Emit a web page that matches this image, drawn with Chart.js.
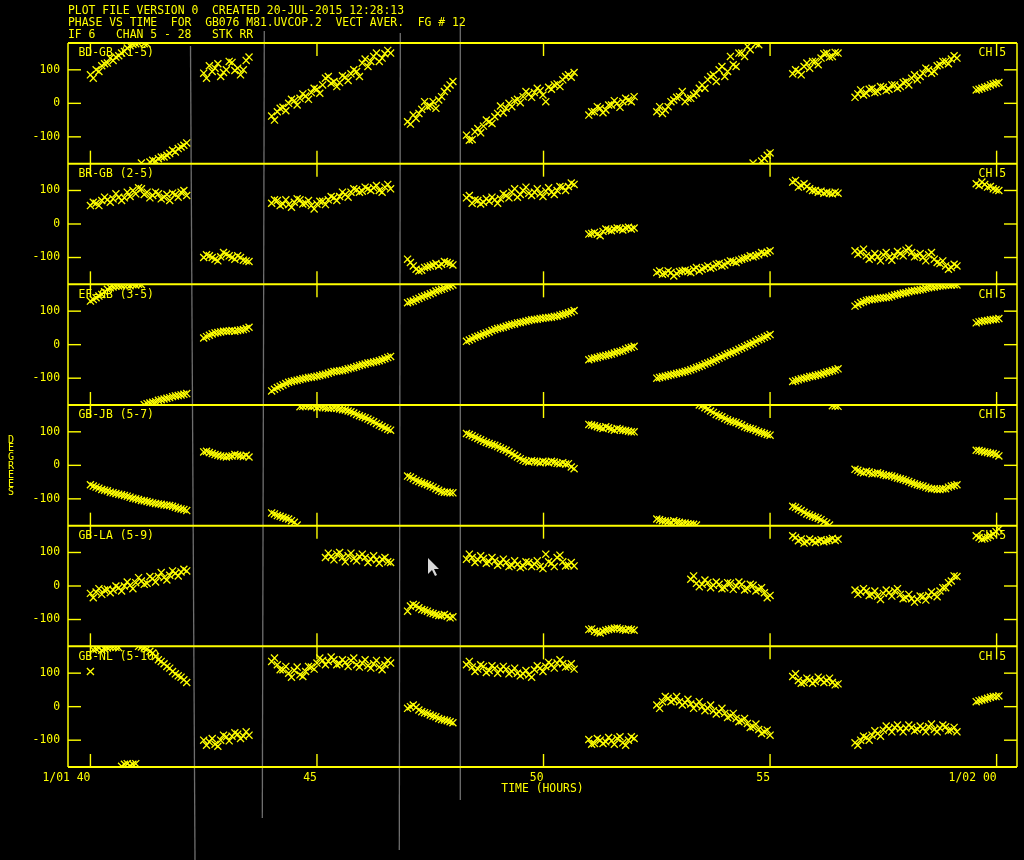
<!DOCTYPE html>
<html>
<head>
<meta charset="utf-8">
<script src="https://cdn.jsdelivr.net/npm/chart.js@4.4.1/dist/chart.umd.min.js"></script>
<style>
  html, body { margin: 0; padding: 0; background: #000; }
  #wrap { position: relative; width: 1024px; height: 860px; }
</style>
</head>
<body>
<div id="wrap"><canvas id="phaseChart" width="1024" height="860"></canvas></div>
<script>
const titleLines = [
  'PLOT FILE VERSION 0  CREATED 20-JUL-2015 12:28:13',
  'PHASE VS TIME  FOR  GB076 M81.UVCOP.2  VECT AVER.  FG # 12',
  'IF 6   CHAN 5 - 28   STK RR'
];
const baselines = ['BD-GB (1-5)', 'BR-GB (2-5)', 'EF-GB (3-5)', 'GB-JB (5-7)', 'GB-LA (5-9)', 'GB-NL (5-10)'];
const channelLabel = 'CH 5';
const xTicks = [40, 45, 50, 55, 60];
const xTickLabels = ['1/01 40', '45', '50', '55', '1/02 00'];
const yTicks = [-100, 0, 100];

// sample times (hours) of each scan
const scanTimes = [
  [40.0, 40.0625, 40.125, 40.1875, 40.25, 40.3125, 40.375, 40.4375, 40.5, 40.5625, 40.625, 40.6875, 40.75, 40.8125, 40.875, 40.9375, 41.0, 41.0625, 41.125, 41.1875, 41.25, 41.3125, 41.375, 41.4375, 41.5, 41.5625, 41.625, 41.6875, 41.75, 41.8125, 41.875, 41.9375, 42.0, 42.0625, 42.125],
  [42.5, 42.5625, 42.625, 42.6875, 42.75, 42.8125, 42.875, 42.9375, 43.0, 43.0625, 43.125, 43.1875, 43.25, 43.3125, 43.375, 43.4375, 43.5],
  [44.0, 44.0625, 44.125, 44.1875, 44.25, 44.3125, 44.375, 44.4375, 44.5, 44.5625, 44.625, 44.6875, 44.75, 44.8125, 44.875, 44.9375, 45.0, 45.0625, 45.125, 45.1875, 45.25, 45.3125, 45.375, 45.4375, 45.5, 45.5625, 45.625, 45.6875, 45.75, 45.8125, 45.875, 45.9375, 46.0, 46.0625, 46.125, 46.1875, 46.25, 46.3125, 46.375, 46.4375, 46.5, 46.5625, 46.625],
  [47.0, 47.0625, 47.125, 47.1875, 47.25, 47.3125, 47.375, 47.4375, 47.5, 47.5625, 47.625, 47.6875, 47.75, 47.8125, 47.875, 47.9375, 48.0],
  [48.3, 48.3625, 48.425, 48.4875, 48.55, 48.6125, 48.675, 48.7375, 48.8, 48.8625, 48.925, 48.9875, 49.05, 49.1125, 49.175, 49.2375, 49.3, 49.3625, 49.425, 49.4875, 49.55, 49.6125, 49.675, 49.7375, 49.8, 49.8625, 49.925, 49.9875, 50.05, 50.1125, 50.175, 50.2375, 50.3, 50.3625, 50.425, 50.4875, 50.55, 50.6125, 50.675],
  [51.0, 51.0625, 51.125, 51.1875, 51.25, 51.3125, 51.375, 51.4375, 51.5, 51.5625, 51.625, 51.6875, 51.75, 51.8125, 51.875, 51.9375, 52.0],
  [52.5, 52.5625, 52.625, 52.6875, 52.75, 52.8125, 52.875, 52.9375, 53.0, 53.0625, 53.125, 53.1875, 53.25, 53.3125, 53.375, 53.4375, 53.5, 53.5625, 53.625, 53.6875, 53.75, 53.8125, 53.875, 53.9375, 54.0, 54.0625, 54.125, 54.1875, 54.25, 54.3125, 54.375, 54.4375, 54.5, 54.5625, 54.625, 54.6875, 54.75, 54.8125, 54.875, 54.9375, 55.0],
  [55.5, 55.5625, 55.625, 55.6875, 55.75, 55.8125, 55.875, 55.9375, 56.0, 56.0625, 56.125, 56.1875, 56.25, 56.3125, 56.375, 56.4375, 56.5],
  [56.875, 56.9375, 57.0, 57.0625, 57.125, 57.1875, 57.25, 57.3125, 57.375, 57.4375, 57.5, 57.5625, 57.625, 57.6875, 57.75, 57.8125, 57.875, 57.9375, 58.0, 58.0625, 58.125, 58.1875, 58.25, 58.3125, 58.375, 58.4375, 58.5, 58.5625, 58.625, 58.6875, 58.75, 58.8125, 58.875, 58.9375, 59.0, 59.0625, 59.125],
  [59.55, 59.6125, 59.675, 59.7375, 59.8, 59.8625, 59.925, 59.9875, 60.05]
];

// phases (degrees), one list per scan
const bdgb = [
  [85, 75, 100, 95, 112, 118, 120, 135, 128, 138, 142, 150, 155, 165, 172, 176, 178, 179, -178, 178, 177, -175, -170, -172, -165, -160, -160, -155, -150, -140, -145, -135, -130, -125, -118],
  [90, 75, 112, 95, 105, 118, 80, 92, 100, 125, 122, 98, 105, 85, 100, 128, 138],
  [-38, -50, -25, -15, -12, -22, 0, 12, 8, -5, 15, 28, 22, 12, 32, 45, 42, 30, 55, 75, 80, 60, 65, 50, 62, 82, 78, 68, 88, 100, 95, 80, 120, 132, 110, 125, 140, 150, 125, 135, 148, 158, 150],
  [-55, -62, -35, -45, -30, -18, 5, -10, -8, 5, -15, 10, 20, 35, 45, 55, 65],
  [-95, -110, -108, -85, -75, -88, -68, -50, -55, -60, -40, -30, -8, -28, -15, 0, -10, 8, 12, 2, 20, 35, 28, 18, 32, 45, 38, 25, 5, 48, 42, 55, 58, 50, 70, 80, 85, 78, 92],
  [-35, -25, -25, -10, -15, -28, -20, -5, -5, 8, 0, -12, 5, 15, 10, 5, 20],
  [-25, -10, -30, -20, -10, 5, 10, 18, 20, 35, 5, 15, 15, 25, 30, 45, 55, 45, 70, 80, 85, 65, 100, 110, 80, 95, 140, 115, 110, 150, 150, 140, 170, 160, -178, 178, 175, -172, -165, -155, -148],
  [88, 100, 95, 85, 110, 120, 105, 125, 125, 115, 135, 148, 150, 138, 140, 152, 150],
  [18, 28, 40, 25, 30, 42, 45, 32, 35, 50, 48, 38, 42, 55, 55, 45, 50, 62, 65, 55, 75, 85, 70, 80, 90, 105, 100, 90, 95, 112, 115, 125, 125, 118, 132, 142, 135],
  [40, 42, 45, 48, 50, 55, 58, 60, 62]
];
const brgb = [
  [55, 65, 62, 55, 70, 80, 72, 65, 75, 90, 80, 70, 78, 95, 82, 100, 90, 108, 105, 88, 95, 78, 85, 95, 90, 75, 80, 88, 70, 92, 88, 80, 95, 100, 85],
  [-100, -92, -95, -100, -105, -110, -98, -85, -90, -95, -100, -105, -95, -100, -108, -110, -112],
  [62, 72, 70, 55, 60, 72, 58, 50, 65, 75, 72, 60, 62, 70, 55, 45, 60, 68, 68, 58, 72, 82, 78, 70, 82, 95, 88, 80, 95, 105, 102, 95, 98, 110, 105, 100, 108, 115, 100, 95, 110, 118, 105],
  [-105, -115, -125, -135, -140, -138, -130, -128, -125, -122, -118, -125, -120, -112, -115, -118, -122],
  [78, 85, 62, 72, 70, 60, 65, 75, 68, 80, 72, 62, 75, 90, 85, 78, 95, 105, 80, 88, 100, 110, 92, 85, 95, 105, 90, 82, 98, 108, 95, 88, 100, 112, 110, 100, 112, 122, 118],
  [-30, -28, -25, -30, -35, -22, -15, -18, -20, -15, -12, -14, -18, -12, -10, -15, -12],
  [-145, -140, -150, -148, -140, -145, -155, -148, -142, -140, -138, -142, -145, -135, -130, -140, -135, -130, -125, -132, -128, -120, -118, -125, -122, -115, -110, -112, -115, -108, -105, -102, -100, -95, -98, -95, -92, -85, -88, -84, -80],
  [125, 130, 110, 115, 120, 112, 105, 100, 100, 95, 98, 92, 95, 92, 90, 95, 92],
  [-80, -90, -85, -75, -95, -105, -100, -88, -98, -110, -92, -85, -100, -108, -95, -82, -88, -95, -78, -72, -85, -98, -95, -88, -100, -110, -92, -85, -105, -115, -118, -110, -125, -135, -130, -120, -125],
  [120, 115, 125, 118, 110, 112, 105, 102, 100]
];
const efgb = [
  [130, 135, 140, 145, 150, 158, 165, 170, 172, 174, 175, 176, 177, 178, 176, 179, 178, 180, 179, -179, -176, -174, -172, -170, -166, -164, -162, -160, -158, -155, -153, -152, -150, -148, -146],
  [20, 24, 28, 32, 35, 36, 38, 40, 40, 41, 42, 40, 42, 44, 45, 48, 52],
  [-138, -133, -128, -124, -120, -116, -112, -110, -108, -106, -104, -102, -100, -98, -97, -96, -94, -92, -90, -88, -85, -82, -80, -79, -78, -77, -75, -72, -70, -68, -65, -62, -60, -58, -55, -54, -52, -50, -48, -45, -42, -38, -35],
  [125, 128, 130, 135, 138, 142, 145, 148, 152, 155, 160, 162, 165, 168, 172, 175, 178],
  [10, 14, 18, 22, 25, 28, 32, 35, 38, 42, 45, 48, 50, 52, 55, 58, 60, 62, 65, 66, 68, 70, 72, 74, 75, 76, 78, 79, 80, 81, 82, 84, 85, 88, 90, 92, 95, 98, 102],
  [-45, -42, -40, -38, -35, -34, -32, -30, -28, -25, -22, -20, -18, -14, -10, -8, -5],
  [-100, -98, -96, -94, -92, -90, -88, -86, -84, -82, -80, -78, -75, -72, -68, -65, -62, -58, -55, -52, -48, -44, -40, -36, -32, -28, -25, -22, -18, -14, -10, -6, -2, 2, 5, 10, 15, 18, 22, 26, 30],
  [-110, -108, -105, -102, -100, -98, -95, -94, -92, -90, -88, -85, -82, -80, -78, -75, -72],
  [115, 120, 125, 128, 132, 134, 135, 136, 138, 139, 140, 141, 142, 145, 148, 150, 152, 154, 155, 158, 160, 161, 162, 164, 165, 168, 170, 171, 172, 174, 175, 176, 177, 178, 178, 179, 178],
  [65, 68, 70, 71, 72, 74, 75, 76, 78]
];
const gbjb = [
  [-58, -62, -65, -68, -72, -74, -76, -80, -82, -84, -86, -88, -90, -92, -95, -98, -100, -102, -105, -106, -108, -110, -112, -114, -115, -116, -118, -119, -120, -122, -125, -128, -130, -132, -135],
  [40, 42, 38, 35, 32, 30, 28, 26, 25, 27, 28, 32, 30, 28, 26, 30, 25],
  [-142, -145, -150, -152, -155, -158, -160, -165, -170, -178, 175, 176, 178, 177, 175, 176, 172, 175, 174, 172, 170, 171, 172, 170, 168, 166, 165, 162, 160, 156, 152, 148, 145, 142, 138, 134, 130, 125, 120, 116, 112, 108, 105],
  [-32, -35, -40, -45, -48, -52, -55, -58, -62, -65, -70, -74, -78, -80, -80, -82, -82],
  [95, 92, 88, 84, 80, 76, 72, 68, 65, 62, 60, 56, 52, 48, 45, 40, 35, 30, 25, 20, 15, 12, 10, 14, 12, 10, 8, 12, 10, 8, 12, 10, 6, 5, 8, 4, 5, -5, -10],
  [122, 120, 118, 115, 112, 110, 115, 112, 108, 105, 110, 108, 105, 104, 102, 100, 100],
  [-160, -162, -165, -166, -168, -170, -165, -168, -170, -172, -172, -174, -175, -176, -178, 180, 178, 172, 168, 162, 158, 152, 148, 145, 140, 136, 132, 130, 128, 124, 120, 115, 112, 110, 108, 104, 100, 98, 95, 92, 90],
  [-122, -125, -130, -135, -140, -145, -148, -152, -155, -158, -162, -168, -172, -178, 178, 177, 176],
  [-12, -15, -20, -22, -18, -20, -25, -24, -22, -25, -28, -30, -30, -32, -35, -38, -40, -42, -45, -48, -52, -55, -58, -60, -62, -65, -68, -70, -70, -72, -72, -70, -70, -65, -62, -60, -58],
  [45, 44, 42, 40, 38, 36, 35, 32, 28]
];
const gbla = [
  [-22, -35, -18, -8, -25, -12, -10, -20, -12, 0, -5, -15, 0, 12, 2, -8, 10, 25, 15, 5, 8, 28, 22, 12, 28, 40, 25, 18, 32, 45, 38, 30, 42, 50, 45],
  [null, null, null, null, null, null, null, null, null, null, null, null, null, null, null, null, null],
  [null, null, null, null, null, null, null, null, null, null, null, null, null, null, null, null, null, null, null, 85, 98, 88, 78, 95, 100, 85, 72, 90, 98, 82, 75, 88, 95, 85, 70, 80, 90, 78, 68, 80, 85, 72, 70],
  [-75, -60, -55, -58, -65, -70, -72, -75, -80, -82, -85, -88, -88, -85, -90, -95, -92],
  [80, 95, 85, 70, 78, 90, 82, 68, 72, 85, 75, 62, 68, 80, 70, 58, 62, 75, 65, 55, 60, 72, 70, 58, 65, 75, 58, 52, 95, 72, 68, 58, 85, 92, 72, 60, 62, 70, 60],
  [-130, -128, -135, -138, -140, -135, -132, -130, -128, -126, -125, -128, -130, -132, -128, -130, -132],
  [null, null, null, null, null, null, null, null, null, null, null, null, 20, 30, 8, -2, 5, 18, 10, -5, 2, 12, 5, -8, -5, 10, 8, -10, 0, 12, 5, -12, -8, 5, 2, -15, -10, -5, -20, -35, -28],
  [150, 145, 135, 140, 128, 132, 140, 135, 130, 135, 138, 132, 135, 138, 142, 136, 140],
  [-12, -25, -18, -8, -15, -28, -25, -15, -30, -40, -22, -12, -20, -30, -15, -8, -25, -38, -35, -25, -38, -48, -40, -30, -32, -42, -28, -18, -25, -32, -15, -5, -5, 10, 15, 30, 28],
  [150, 145, 140, 142, 145, 150, 155, 162, 170]
];
const gbnl = [
  [105, 170, 172, 175, 168, 172, 175, 178, 178, 177, 176, -178, -172, -170, -176, -172, -170, 180, 178, 175, 172, 165, 160, 150, 140, 135, 128, 120, 115, 105, 98, 92, 88, 80, 72],
  [-100, -115, -105, -95, -112, -118, -100, -85, -90, -102, -88, -78, -82, -95, -88, -75, -85],
  [135, 145, 125, 110, 110, 120, 100, 88, 108, 118, 95, 90, 105, 120, 118, 112, 130, 145, 138, 125, 135, 148, 140, 125, 128, 140, 132, 120, 138, 145, 125, 118, 130, 140, 122, 115, 128, 138, 118, 110, 125, 138, 130],
  [-5, 0, 5, -2, -10, -15, -18, -20, -25, -28, -30, -35, -38, -40, -42, -45, -48],
  [125, 135, 118, 105, 112, 125, 120, 102, 108, 122, 115, 100, 110, 120, 112, 98, 105, 115, 100, 92, 98, 108, 95, 88, 110, 122, 115, 105, 120, 132, 125, 115, 130, 140, 128, 118, 120, 128, 112],
  [-98, -112, -110, -95, -100, -110, -105, -92, -102, -112, -95, -90, -108, -115, -100, -90, -95],
  [5, -5, 15, 30, 25, 15, 20, 30, 15, 5, 12, 22, 8, -5, 5, 15, 0, -12, -5, 5, -12, -22, -15, -5, -20, -32, -28, -20, -35, -45, -42, -35, -50, -62, -60, -52, -68, -80, -75, -70, -85],
  [90, 98, 78, 70, 72, 85, 80, 70, 75, 88, 82, 72, 78, 85, 72, 65, 68],
  [-108, -115, -100, -88, -92, -100, -85, -72, -80, -88, -70, -58, -65, -75, -62, -55, -66, -75, -64, -55, -62, -72, -68, -58, -65, -75, -60, -52, -68, -75, -64, -55, -60, -72, -70, -62, -75],
  [15, 18, 20, 22, 25, 28, 30, 30, 32]
];
const phases = [bdgb, brgb, efgb, gbjb, gbla, gbnl];

const YELLOW = '#ffff00';
const FONT = '"DejaVu Sans Mono", monospace';
Chart.defaults.font.family = FONT;
Chart.defaults.font.size = 11.4;
Chart.defaults.color = YELLOW;

function toPoints(series) {
  const pts = [];
  series.forEach((vals, s) => {
    vals.forEach((v, i) => {
      if (v !== null) pts.push({ x: scanTimes[s][i], y: v });
    });
  });
  return pts;
}

// stray screen lines in the captured window
const seams = [[190.5, 46, 195, 860], [264.3, 31, 262.3, 818], [400.3, 33, 399.3, 850], [460.3, 23, 460.3, 800]];

const aipsFrame = {
  id: 'aipsFrame',
  beforeDatasetsDraw(chart) {
    const ctx = chart.ctx;
    ctx.save();
    ctx.strokeStyle = '#6e6e6e';
    ctx.lineWidth = 1.3;
    seams.forEach(s => {
      ctx.beginPath(); ctx.moveTo(s[0], s[1]); ctx.lineTo(s[2], s[3]); ctx.stroke();
    });
    ctx.restore();
  },
  afterDraw(chart) {
    const { ctx, chartArea: a, scales } = chart;
    const xs = scales.x;
    const line = (x1, y1, x2, y2) => { ctx.beginPath(); ctx.moveTo(x1, y1); ctx.lineTo(x2, y2); ctx.stroke(); };
    ctx.save();
    ctx.strokeStyle = YELLOW;
    ctx.fillStyle = YELLOW;
    ctx.font = '11.4px ' + FONT;
    ctx.textBaseline = 'middle';
    baselines.forEach((name, i) => {
      const ys = scales['y' + i];
      ctx.lineWidth = 2;
      line(a.left, ys.top, a.right, ys.top);
      ctx.lineWidth = 1.4;
      xTicks.forEach(v => {
        const px = xs.getPixelForValue(v);
        line(px, ys.top, px, ys.top + 13);
        line(px, ys.bottom - 13, px, ys.bottom);
      });
      yTicks.forEach(v => {
        const py = ys.getPixelForValue(v);
        line(a.left, py, a.left + 13, py);
        line(a.right - 13, py, a.right, py);
      });
      ctx.textAlign = 'left';
      ctx.fillText(name, a.left + 10.5, ys.top + 10.5);
      ctx.textAlign = 'right';
      ctx.fillText(channelLabel, a.right - 11, ys.top + 10.5);
    });
    ctx.lineWidth = 2;
    line(a.left, a.bottom, a.right, a.bottom);
    ctx.lineWidth = 1.5;
    line(a.left, a.top, a.left, a.bottom);
    line(a.right, a.top, a.right, a.bottom);

    ctx.textAlign = 'left';
    titleLines.forEach((t, k) => ctx.fillText(t, 68, 10.7 + 12 * k));

    ctx.font = '10px ' + FONT;
    ctx.textAlign = 'center';
    'DEGREES'.split('').forEach((c, k) => ctx.fillText(c, 11, 440 + 8.8 * k));

    // mouse pointer
    ctx.beginPath();
    const px = 428, py = 558;
    [[0, 0], [0, 16], [4, 12], [7, 18], [9, 17], [6, 11], [11, 11]].forEach((p, k) => {
      if (k === 0) ctx.moveTo(px + p[0], py + p[1]); else ctx.lineTo(px + p[0], py + p[1]);
    });
    ctx.closePath();
    ctx.fillStyle = '#d8d8d8';
    ctx.fill();
    ctx.restore();
  }
};

const scales = {
  x: {
    type: 'linear',
    min: 39.505,
    max: 60.45,
    afterBuildTicks: s => { s.ticks = xTicks.map(v => ({ value: v })); },
    afterFit: s => { s.height = 30; },
    grid: { display: false, drawTicks: false },
    border: { display: false },
    ticks: {
      align: 'end', padding: 4, maxRotation: 0, autoSkip: false, color: YELLOW,
      callback: (v, i) => xTickLabels[i]
    },
    title: { display: true, text: 'TIME (HOURS)', color: YELLOW, padding: { top: 0, bottom: 1 } }
  }
};
// stacked panels: last defined sits on top
for (let i = baselines.length - 1; i >= 0; i--) {
  scales['y' + i] = {
    type: 'linear',
    position: 'left',
    stack: 'panels',
    stackWeight: 1,
    min: -180,
    max: 180,
    afterBuildTicks: s => { s.ticks = yTicks.map(v => ({ value: v })); },
    afterFit: s => { s.width = 68; },
    grid: { display: false, drawTicks: false },
    border: { display: false },
    ticks: { padding: 8, color: YELLOW, callback: v => String(v) }
  };
}

const datasets = phases.map((series, i) => ({
  label: baselines[i],
  data: toPoints(series),
  yAxisID: 'y' + i,
  showLine: false,
  pointStyle: 'crossRot',
  pointRadius: 5,
  pointBorderWidth: 1.3,
  borderColor: YELLOW,
  backgroundColor: YELLOW,
  clip: 0
}));

new Chart(document.getElementById('phaseChart'), {
  type: 'scatter',
  data: { datasets: datasets },
  options: {
    responsive: false,
    animation: false,
    layout: { padding: { top: 43, right: 7, bottom: 63, left: 0 } },
    plugins: { legend: { display: false }, tooltip: { enabled: false } },
    scales: scales
  },
  plugins: [aipsFrame]
});
</script>
</body>
</html>
